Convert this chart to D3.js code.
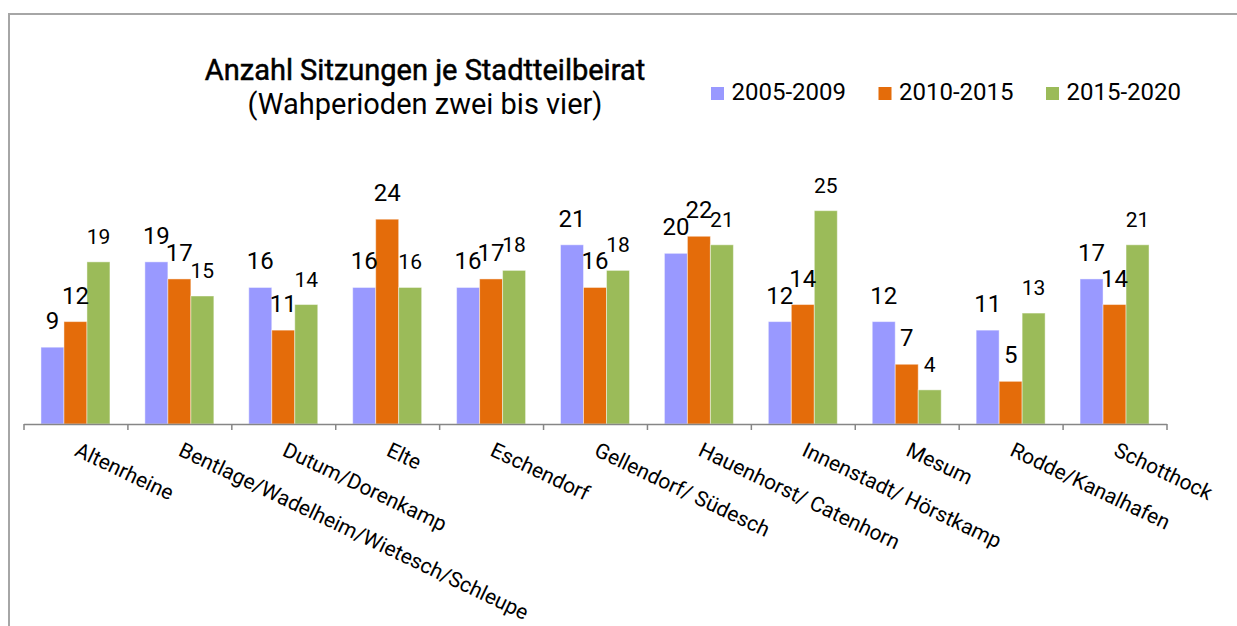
<!DOCTYPE html>
<html>
<head>
<meta charset="utf-8">
<script src="https://cdn.jsdelivr.net/npm/d3@7"></script>
<style>
  body { margin: 0; background: #fff; }
  text { font-family: Roboto, "Noto Sans", sans-serif; fill: #000; }
</style>
</head>
<body>
<script>

// data //
const categories = ["Altenrheine", "Bentlage/Wadelheim/Wietesch/Schleupe", "Dutum/Dorenkamp", "Elte",
  "Eschendorf", "Gellendorf/ Südesch", "Hauenhorst/ Catenhorn", "Innenstadt/ Hörstkamp",
  "Mesum", "Rodde/Kanalhafen", "Schotthock"];
const seriesNames = ["2005-2009", "2010-2015", "2015-2020"];
const values2005 = [9, 19, 16, 16, 16, 21, 20, 12, 12, 11, 17];
const values2010 = [12, 17, 11, 24, 17, 16, 22, 14, 7, 5, 14];
const values2015 = [19, 15, 14, 16, 18, 18, 21, 25, 4, 13, 21];
const colors = ["#9999ff", "#e46c0a", "#9bbb59"];

const seriesValues = [values2005, values2010, values2015];

const width = 1237, height = 626;

const svg = d3.select('body')
  .append('svg')
  .attr('width', width)
  .attr('height', height);

// frame //
svg.append('path')
  .attr('d', 'M9,' + height + 'V14H' + width)
  .attr('fill', 'none')
  .attr('stroke', '#a6a6a6')
  .attr('stroke-width', 2);

// scales //
let x0 = d3.scaleBand()
  .domain(categories)
  .range([23.5, 1166.5])
  .padding(0);

let x1 = d3.scaleBand()
  .domain(seriesNames)
  .range([0, x0.bandwidth()])
  .paddingInner(0)
  .paddingOuter(0.76);

let y = d3.scaleLinear()
  .domain([0, 30])
  .range([424, 168]);

// bars //
const groups = svg.append('g')
  .selectAll('g')
  .data(categories)
  .join('g')
  .attr('transform', d => 'translate(' + x0(d) + ',0)');

groups.selectAll('rect')
  .data((d, i) => seriesNames.map((s, j) => ({ s: s, j: j, v: seriesValues[j][i] })))
  .join('rect')
  .attr('x', d => x1(d.s))
  .attr('y', d => y(d.v))
  .attr('width', x1.bandwidth())
  .attr('height', d => y(0) - y(d.v))
  .attr('fill', d => colors[d.j])
  .attr('stroke', '#ffffff')
  .attr('stroke-opacity', 0.45)
  .attr('stroke-width', 1);

// value labels //
groups.selectAll('text')
  .data((d, i) => seriesNames.map((s, j) => ({ s: s, j: j, v: seriesValues[j][i] })))
  .join('text')
  .attr('x', d => x1(d.s) + x1.bandwidth() / 2)
  .attr('y', d => y(d.v) - 18)
  .attr('text-anchor', 'middle')
  .style('font-size', d => d.j === 2 ? '21px' : '24px')
  .text(d => d.v);

// x axis (ticks between categories) //
let xBounds = d3.scaleLinear()
  .domain([0, categories.length])
  .range(x0.range());

const axis = svg.append('g')
  .attr('transform', 'translate(0,' + y(0) + ')')
  .call(d3.axisBottom(xBounds)
    .tickValues(d3.range(categories.length + 1))
    .tickSize(6)
    .tickSizeOuter(0)
    .tickFormat(''));

axis.selectAll('path, line')
  .attr('stroke', '#868686')
  .attr('stroke-width', 1.5);

// category labels //
svg.append('g')
  .selectAll('text')
  .data(categories)
  .join('text')
  .attr('transform', d => 'translate(' + (x0(d) + x0.bandwidth() / 2 - 2) + ',455) rotate(25.5)')
  .attr('text-anchor', 'start')
  .style('font-size', '21px')
  .text(d => d);

// title //
svg.append('text')
  .attr('x', 425)
  .attr('y', 80)
  .attr('text-anchor', 'middle')
  .style('font-size', '29px')
  .style('stroke', '#000')
  .style('stroke-width', 0.5)
  .text('Anzahl Sitzungen je Stadtteilbeirat');

svg.append('text')
  .attr('x', 425)
  .attr('y', 114)
  .attr('text-anchor', 'middle')
  .style('font-size', '29px')
  .text('(Wahperioden zwei bis vier)');

// legend //
const legend = svg.append('g')
  .selectAll('g')
  .data(seriesNames)
  .join('g')
  .attr('transform', (d, i) => 'translate(' + (711 + i * 167.5) + ',87)');

legend.append('rect')
  .attr('width', 13)
  .attr('height', 13)
  .attr('fill', (d, i) => colors[i]);

legend.append('text')
  .attr('x', 20.5)
  .attr('y', 13)
  .style('font-size', '24px')
  .text(d => d);

</script>
</body>
</html>
